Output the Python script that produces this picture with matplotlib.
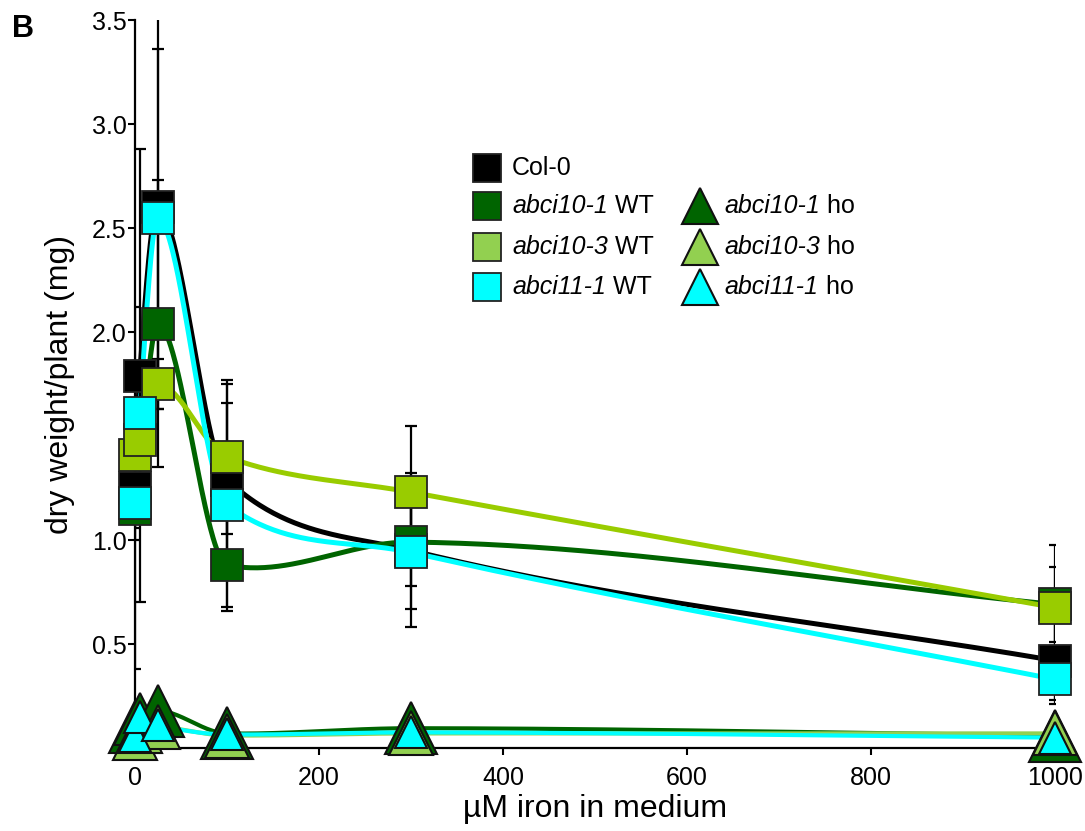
import numpy as np
import matplotlib
matplotlib.use("Agg")
import matplotlib.pyplot as plt

plt.rcParams['font.family'] = ['Liberation Sans', 'DejaVu Sans']

# iron concentrations (µM)
iron = np.array([0, 5, 25, 100, 300, 1000])

# WT lines (mean, SD) - nan = no point
col0 = np.array([1.25, 1.79, 2.60, 1.29, 0.95, 0.42])
col0_sd = np.array([0.87, 1.09, 0.97, 0.46, 0.37, 0.21])
a101_wt = np.array([1.15, np.nan, 2.04, 0.88, 0.99, 0.69])
a101_wt_sd = np.array([0.15, np.nan, 0.69, 0.22, 0.21, 0.18])
a103_wt = np.array([1.41, 1.48, 1.75, 1.40, 1.23, 0.675])
a103_wt_sd = np.array([0.10, 0.10, 0.12, 0.37, 0.32, 0.30])
a111_wt = np.array([1.18, 1.61, 2.55, 1.17, 0.94, 0.33])
a111_wt_sd = np.array([0.12, 0.15, 0.81, 0.49, 0.27, 0.10])

# homozygous lines
a101_ho = np.array([0.10, 0.14, 0.18, 0.07, 0.095, 0.06])
a103_ho = np.array([0.05, 0.08, 0.10, 0.06, 0.07, 0.07])
a111_ho = np.array([0.06, 0.15, 0.11, 0.065, 0.075, 0.05])

c_black = "#000000"
c_dkgreen = "#006400"
c_yellow = "#99CC00"
c_ltgreen = "#92D050"
c_cyan = "#00FFFF"


def smooth(x, y, n=80):
    # cubic hermite through the points, tangents = mix of pchip and catmull-rom
    ok = ~np.isnan(y)
    x, y = x[ok].astype(float), y[ok]
    m = np.zeros_like(y)
    m[0] = (y[1] - y[0]) / (x[1] - x[0])
    m[-1] = (y[-1] - y[-2]) / (x[-1] - x[-2])
    for i in range(1, len(x) - 1):
        h1, h2 = x[i] - x[i - 1], x[i + 1] - x[i]
        d1, d2 = (y[i] - y[i - 1]) / h1, (y[i + 1] - y[i]) / h2
        cr = (y[i + 1] - y[i - 1]) / (h1 + h2)
        if d1 * d2 <= 0:
            pc = 0.0
        else:
            w1, w2 = 2 * h2 + h1, h2 + 2 * h1
            pc = (w1 + w2) / (w1 / d1 + w2 / d2)
        m[i] = 0.25 * cr + 0.75 * pc
    xs, ys = [], []
    for i in range(len(x) - 1):
        h = x[i + 1] - x[i]
        t = np.linspace(0, 1, n)
        h00 = 2 * t**3 - 3 * t**2 + 1
        h10 = t**3 - 2 * t**2 + t
        h01 = -2 * t**3 + 3 * t**2
        h11 = t**3 - t**2
        xs.append(x[i] + t * h)
        ys.append(h00 * y[i] + h10 * h * m[i] + h01 * y[i + 1] + h11 * h * m[i + 1])
    return np.concatenate(xs), np.concatenate(ys)


fig = plt.figure(figsize=(10.85, 8.31), dpi=100)
ax = fig.add_axes([135 / 1085, 83 / 831, 920 / 1085, 728 / 831])

wt = [(col0, col0_sd, c_black), (a101_wt, a101_wt_sd, c_dkgreen),
      (a103_wt, a103_wt_sd, c_yellow), (a111_wt, a111_wt_sd, c_cyan)]
ho = [(a101_ho, c_dkgreen, 37), (a103_ho, c_ltgreen, 32), (a111_ho, c_cyan, 23)]

# curves
for y, c, ms in ho:
    sx, sy = smooth(iron, y)
    ax.plot(sx, sy, color=c, lw=3, zorder=2, solid_capstyle='butt')
for y, sd, c in wt:
    sx, sy = smooth(iron, y)
    ax.plot(sx, sy, color=c, lw=3.6, zorder=2)

# error bars (all black)
for y, sd, c in wt:
    ax.errorbar(iron, y, yerr=sd, fmt='none', ecolor='black', elinewidth=1.6,
                capsize=4, capthick=1.6, zorder=3)

# markers
z = 5
for y, sd, c in wt:
    ax.plot(iron, y, 's', ms=23, mfc=c, mec='#222222', mew=1.3, ls='none',
            zorder=z, clip_on=False)
    z += 1
for y, c, ms in ho:
    ax.plot(iron, y, '^', ms=ms, mfc=c, mec='#111111', mew=1.5, ls='none',
            zorder=z, clip_on=False)
    z += 1

ax.set_xlim(0, 1000)
ax.set_ylim(0, 3.5)
ax.set_xticks([0, 200, 400, 600, 800, 1000])
ax.set_yticks([0.5, 1.0, 1.5, 2.0, 2.5, 3.0, 3.5])
ax.set_yticklabels(['0.5', '1.0', '', '2.0', '2.5', '3.0', '3.5'])
ax.tick_params(axis='both', labelsize=18, width=1.5, length=5, direction='out')
ax.tick_params(axis='y', pad=1)
ax.tick_params(axis='x', pad=8)
for s in ['top', 'right']:
    ax.spines[s].set_visible(False)
for s in ['left', 'bottom']:
    ax.spines[s].set_linewidth(1.6)

ax.set_xlabel("µM iron in medium", fontsize=23, labelpad=3)
ax.set_ylabel("dry weight/plant (mg)", fontsize=23, labelpad=12)

# legend drawn by hand (italic gene names + plain suffix)
rows = [0.797, 0.744, 0.688, 0.633]
wt_names = [("Col-0", ""), ("abci10-1", " WT"), ("abci10-3", " WT"), ("abci11-1", " WT")]
wt_cols = [c_black, c_dkgreen, c_ltgreen, c_cyan]
for yy, (nm, suf), c in zip(rows, wt_names, wt_cols):
    ax.plot([0.3826], [yy], 's', ms=20, mfc=c, mec='#222222', mew=1.3,
            transform=ax.transAxes, clip_on=False)
    t = ax.text(0.410, yy, nm, transform=ax.transAxes, fontsize=18, va='center',
                style='normal' if suf == "" else 'italic')
    if suf:
        ax.annotate(suf, xy=(1, 0), xycoords=t, va='bottom', ha='left', fontsize=18)

ho_names = ["abci10-1", "abci10-3", "abci11-1"]
ho_cols = [c_dkgreen, c_ltgreen, c_cyan]
for yy, nm, c in zip(rows[1:], ho_names, ho_cols):
    ax.plot([0.614], [yy], '^', ms=26, mfc=c, mec='#111111', mew=1.5,
            transform=ax.transAxes, clip_on=False)
    t = ax.text(0.641, yy, nm, transform=ax.transAxes, fontsize=18, va='center',
                style='italic')
    ax.annotate(" ho", xy=(1, 0), xycoords=t, va='bottom', ha='left', fontsize=18)

fig.text(0.011, 0.983, "B", fontsize=22, fontweight='bold', va='top', ha='left')

fig.savefig("out.png", dpi=100)
